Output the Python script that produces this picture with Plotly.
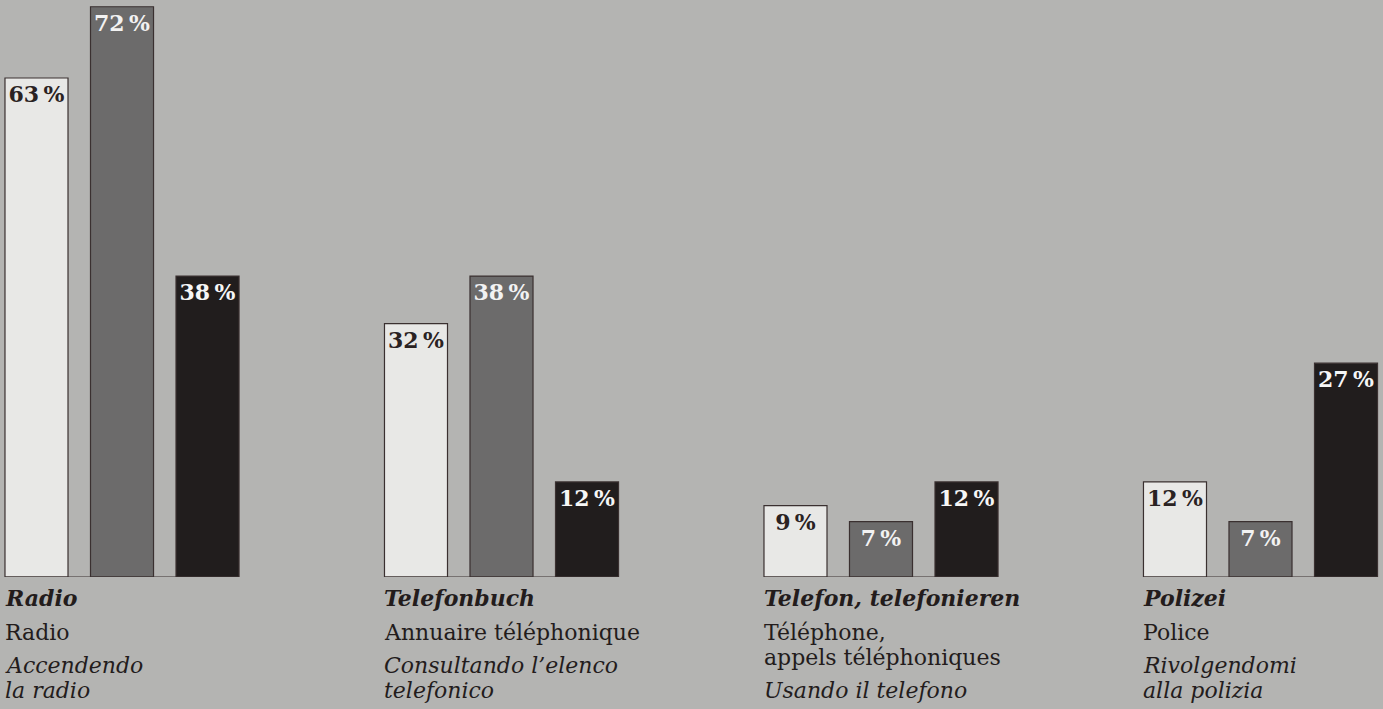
import plotly.graph_objects as go

# data
categories = ["Radio", "Telefonbuch", "Telefon", "Polizei"]
series_names = ["A", "B", "C"]
values_light = [63, 32, 9, 12]
values_mid = [72, 38, 7, 7]
values_dark = [38, 12, 12, 27]

labels_de = ["Radio", "Telefonbuch", "Telefon, telefonieren", "Polizei"]
labels_fr = ["Radio", "Annuaire téléphonique", "Téléphone,<br>appels téléphoniques", "Police"]
labels_it = ["Accendendo<br>la radio", "Consultando l’elenco<br>telefonico", "Usando il telefono",
             "Rivolgendomi<br>alla polizia"]

BG = "#b4b4b2"
FONT = "DejaVu Serif"
BARGAP = 0.324
BARGROUPGAP = 0.263

fills = ["#e8e8e6", "#6c6b6b", "#211d1d"]
text_cols = ["#2a2222", "#f2f2f2", "#f6f6f6"]

fig = go.Figure()
for name, vals, fill, tc in zip(series_names, [values_light, values_mid, values_dark], fills, text_cols):
    fig.add_trace(go.Bar(
        x=categories, y=vals, name=name,
        marker=dict(color=fill, line=dict(color="#3a3030", width=1.2)),
        text=[f"{v}\u2009%" for v in vals],
        textposition="inside", insidetextanchor="end", constraintext="none",
        textfont=dict(family=FONT, size=22, color=tc, weight="bold"),
        hoverinfo="skip",
    ))

# left edge of the first bar in each group (category units)
slot = (1 - BARGAP) / 3
left = -(1 - BARGAP) / 2 + slot * BARGROUPGAP / 2

LINE = 25
annotations = []
shapes = []
for i in range(len(categories)):
    shapes.append(dict(type="line", xref="x", yref="y", x0=i + left, x1=i - left, y0=0, y1=0,
                       line=dict(color="#3a3030", width=1.2)))
    lines = [(f"<b><i>{labels_de[i]}</i></b>", -21)]
    y = -55
    for part in labels_fr[i].split("<br>"):
        lines.append((part, y))
        y -= LINE
    y -= 33 - LINE
    for part in labels_it[i].split("<br>"):
        lines.append((f"<i>{part}</i>", y))
        y -= LINE
    for txt, ys in lines:
        annotations.append(dict(
            text=txt, x=i + left, xref="x", y=0, yref="paper", yanchor="middle", xanchor="left",
            yshift=ys, xshift=-2, showarrow=False, align="left",
            font=dict(family=FONT, size=22, color="#231c1c"),
        ))

fig.update_layout(
    width=1383, height=709,
    margin=dict(l=0, r=0, t=0, b=132),
    paper_bgcolor=BG, plot_bgcolor=BG,
    barmode="group", bargap=BARGAP, bargroupgap=BARGROUPGAP,
    showlegend=False,
    xaxis=dict(range=[-0.3215, 3.3228], showticklabels=False, showgrid=False, zeroline=False,
               showline=False, ticks=""),
    yaxis=dict(range=[0, 72.85], visible=False),
    annotations=annotations, shapes=shapes,
)

fig.write_html("out.html", config={"displayModeBar": False},
               post_script="document.body.style.margin='0';")
